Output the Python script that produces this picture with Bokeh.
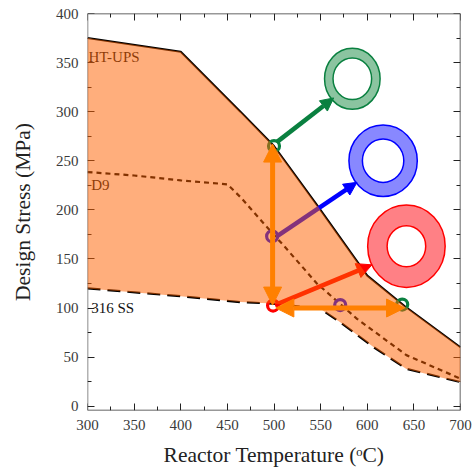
from bokeh.plotting import figure
from bokeh.embed import file_html
from bokeh.resources import INLINE
from bokeh.models import LinearAxis, Arrow, NormalHead, FixedTicker, Range1d
from bokeh.core.properties import value

# Alloy design stress curves (Temperature in C, stress in MPa)
ht_ups_t = [300, 400, 464, 500, 546, 600, 640, 700]
ht_ups_s = [375, 361, 300, 265, 205, 133, 102, 60]
d9_t = [300, 350, 400, 450, 464, 489, 510, 546, 589, 642, 700]
d9_s = [238.5, 235, 230, 226, 213, 186, 164, 125, 89, 52, 28]
ss316_t = [300, 400, 464, 499, 550, 571, 607, 642, 700]
ss316_s = [120, 112, 106, 104.5, 99, 85.5, 60, 38, 24.5]

x_ticks = [300, 350, 400, 450, 500, 550, 600, 650, 700]
y_ticks = [0, 50, 100, 150, 200, 250, 300, 350, 400]
x_minor = [325, 375, 425, 475, 525, 575, 625, 675]
y_minor = [25, 75, 125, 175, 225, 275, 325, 375]

series_names = ["HT-UPS", "D9", "316 SS"]

FONT = "Liberation Serif"
ORANGE = "#FF8000"
GREEN = "#0A8040"
BLUE = "#0000FF"
RED = "#FF0000"

p = figure(width=472, height=470, frame_width=373, frame_height=397,
           x_range=Range1d(300, 700), y_range=Range1d(-4.4, 400),
           output_backend="svg", toolbar_location=None,
           min_border_left=87, min_border_right=12, min_border_top=13, min_border_bottom=60,
           x_axis_type=None, y_axis_type=None, background_fill_color="white",
           border_fill_color="white", outline_line_color=None)
p.grid.visible = False


def tick_axis(ticks, minor, color="#333333"):
    """Axis line and inward ticks only; drawn under the translucent band."""
    ax = LinearAxis(ticker=FixedTicker(ticks=ticks, minor_ticks=minor))
    ax.level = "underlay"
    ax.axis_line_color = color
    ax.axis_line_width = 1.5
    ax.major_tick_line_color = "#222222"
    ax.minor_tick_line_color = "#222222"
    ax.major_tick_in = 7
    ax.major_tick_out = 0
    ax.minor_tick_in = 4
    ax.minor_tick_out = 0
    ax.major_label_overrides = {t: "" for t in ticks}
    ax.major_label_standoff = 0
    ax.major_label_text_font_size = "1px"
    return ax


def label_axis(ticks, title, standoff, title_standoff):
    """Tick numbers and the axis title only."""
    ax = LinearAxis(ticker=FixedTicker(ticks=ticks))
    ax.axis_line_color = None
    ax.major_tick_line_color = None
    ax.minor_tick_line_color = None
    ax.major_tick_in = 0
    ax.major_tick_out = 0
    ax.major_label_text_font = FONT
    ax.major_label_text_font_size = "15px"
    ax.major_label_text_color = "#3a3a3a"
    ax.major_label_standoff = standoff
    ax.axis_label = title
    ax.axis_label_text_font = FONT
    ax.axis_label_text_font_style = "normal"
    ax.axis_label_text_font_size = "21.5px"
    ax.axis_label_text_color = "#222222"
    ax.axis_label_standoff = title_standoff
    return ax


p.add_layout(tick_axis(y_ticks, y_minor, "#666666"), "left")
p.add_layout(tick_axis(x_ticks, x_minor), "below")
p.add_layout(tick_axis(y_ticks, y_minor), "right")
p.add_layout(tick_axis(x_ticks, x_minor), "above")
p.add_layout(label_axis(y_ticks, "Design Stress (MPa)", 9, 18), "left")
p.add_layout(label_axis(x_ticks, "Reactor Temperature (ᵒC)", 9, 10), "below")

# curves and their labels sit underneath the translucent fill
r = p.line(ht_ups_t, ht_ups_s, line_color="black", line_width=2)
r.level = "underlay"
r = p.line(d9_t, d9_s, line_color="black", line_width=2.2, line_dash="5 4")
r.level = "underlay"
r = p.line(ss316_t, ss316_s, line_color="black", line_width=2.2, line_dash="13 7")
r.level = "underlay"

for name, tx, ty in zip(series_names, [301, 304, 304], [355.5, 225, 100.5]):
    r = p.text([tx], [ty], text=[name], text_font=value(FONT), text_font_size="15px",
               text_color="#111111", text_baseline="middle", text_align="left")
    r.level = "underlay"

# ring cross-sections (ellipses in data units)
for cx, cy, w, h, iw, ih, stroke, fill in [
    (584, 333.5, 59.6, 62.2, 41.4, 42.4, GREEN, "#8BC4A0"),
    (617, 250, 73.3, 73.0, 44.4, 44.2, BLUE, "#8888FF"),
    (642, 163, 83.1, 84.0, 41.4, 41.8, RED, "#FF8085"),
]:
    r = p.ellipse([cx], [cy], width=w, height=h, fill_color=fill, line_color=stroke, line_width=1.5)
    r.level = "underlay"
    r = p.ellipse([cx], [cy], width=iw, height=ih, fill_color="white", line_color=stroke, line_width=1.5)
    r.level = "underlay"

# small state-point circles
for px, py, col in [(500, 265, GREEN), (498, 173, BLUE), (499, 102.5, RED),
                    (571, 103, BLUE), (637.5, 103.5, GREEN)]:
    r = p.scatter([px], [py], marker="circle", size=11, fill_color=None, line_color=col, line_width=3.2)
    r.level = "underlay"

# coloured arrows under the fill
for x0, y0, x1, y1, col, sz in [
    (503, 269, 564, 314, GREEN, 13),
    (503, 173, 589, 228, BLUE, 13),
    (501, 103, 605, 144, RED, 15),
]:
    a = Arrow(x_start=x0, y_start=y0, x_end=x1, y_end=y1, line_color=col, line_width=4.5,
              end=NormalHead(size=sz, fill_color=col, line_color=col, line_width=1))
    a.level = "underlay"
    p.add_layout(a)

# translucent band between HT-UPS and 316 SS
band_x = ht_ups_t + ss316_t[::-1]
band_y = ht_ups_s + ss316_s[::-1]
p.patch(band_x, band_y, fill_color="#FF6100", fill_alpha=0.515, line_color=None)

# orange double arrows on top
for x0, y0, x1, y1 in [(498.5, 267, 498.5, 103), (502, 100, 640, 100)]:
    a = Arrow(x_start=x0, y_start=y0, x_end=x1, y_end=y1, line_color=ORANGE, line_width=5,
              start=NormalHead(size=18, fill_color=ORANGE, line_color=ORANGE, line_width=1),
              end=NormalHead(size=18, fill_color=ORANGE, line_color=ORANGE, line_width=1))
    p.add_layout(a)

open("out.html", "w").write(file_html(p, INLINE))
